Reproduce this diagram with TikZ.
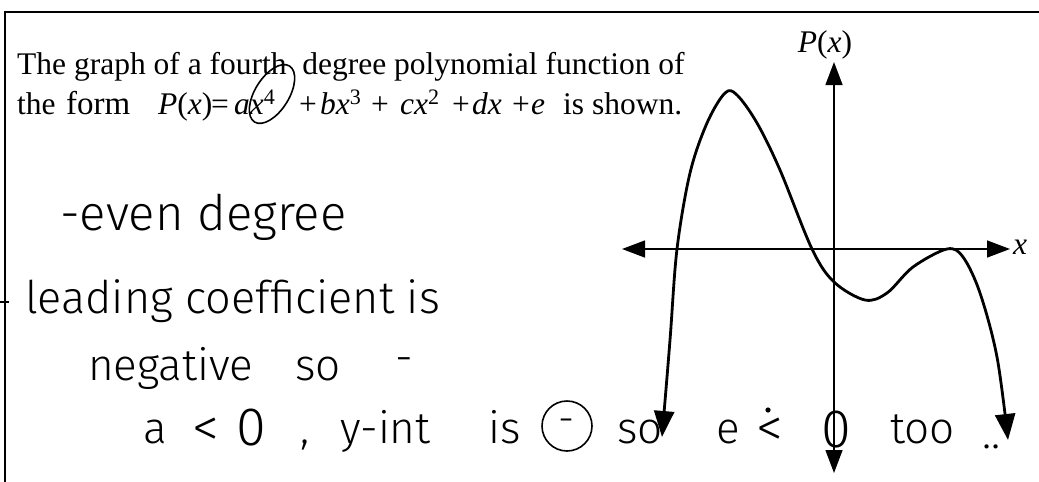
\documentclass[tikz,border=0pt]{standalone}
\usepackage{fontspec}
\setmainfont{Liberation Serif}
\newfontfamily\hand{Fira Sans Light}
\usetikzlibrary{arrows.meta}
\tikzset{
  frameline/.style={line width=1.3pt, black},
  axisline/.style={line width=1.4pt, black, {Triangle[length=23pt,width=17pt]}-{Triangle[length=23pt,width=17pt]}},
  curveline/.style={line width=2.8pt, black, line join=round, {Triangle[length=26pt,width=20pt]}-{Triangle[length=26pt,width=20pt]}},
  printed/.style={anchor=base west, inner sep=0pt, font=\fontsize{31.5}{34}\selectfont},
  hw/.style={anchor=base west, inner sep=0pt, font=\hand\fontsize{44}{50}\selectfont},
  hwbig/.style={anchor=base west, inner sep=0pt, font=\hand\fontsize{54}{60}\selectfont},
  hwB/.style={anchor=base west, inner sep=0pt, font=\hand\fontsize{45}{50}\selectfont},
  hwA/.style={anchor=base west, inner sep=0pt, font=\hand\fontsize{49}{54}\selectfont},
  penline/.style={line width=1.6pt, black},
}
\begin{document}
\begin{tikzpicture}[x=1pt,y=-1pt]
\useasboundingbox (0,0) rectangle (1039,482);
% frame
\coordinate (ftl) at (5,12);
\coordinate (ftr) at (1039,12);
\coordinate (fbl) at (5,482);
\coordinate (tk1) at (0,302);
\coordinate (tk2) at (9,302);
\draw[frameline] (ftr) -- (ftl) -- (fbl);
\draw[frameline] (tk1) -- (tk2);
% printed text
\node[printed] (l1) at (17,74) {The graph of a fourth\ \ degree polynomial function of};
\node[printed] (t0) at (17,114) {the};
\node[printed] (t1) at (66,114) {\fontsize{33}{36}\selectfont form};
\node[printed] (t2) at (158,114) {\textit{P}(\textit{x})};
\node[printed] (t3) at (211,114) {=};
\node[printed] (t4) at (234,114) {\textit{ax}\textsuperscript{4}};
\node[printed] (t5) at (299,114) {+};
\node[printed] (t6) at (320,114) {\textit{bx}\textsuperscript{3}};
\node[printed] (t7) at (371,114) {+};
\node[printed] (t8) at (400,114) {\textit{cx}\textsuperscript{2}};
\node[printed] (t9) at (452,114) {+};
\node[printed] (t10) at (472,114) {\textit{dx}};
\node[printed] (t11) at (512,114) {+};
\node[printed] (t12) at (531,114) {\textit{e}};
\node[printed] (t13) at (563,114) {is shown.};
\coordinate (ell) at (272,94);
\draw[penline, rotate around={58:(ell)}] (ell) ellipse[x radius=33pt, y radius=17pt];
% axes
\coordinate (xl) at (622,249);
\coordinate (xr) at (1010,249);
\coordinate (yt) at (834,62);
\coordinate (yb) at (834,473);
\draw[axisline] (xl) -- (xr);
\draw[axisline] (yb) -- (yt);
\node[font=\fontsize{31.5}{34}\selectfont, inner sep=0pt] (px) at (825,45) {\textit{P}(\textit{x})};
\node[font=\fontsize{31.5}{34}\selectfont\itshape, inner sep=0pt] (xlab) at (1020,247) {x};
% curve
\draw[curveline] plot[smooth, tension=0.55] coordinates {
 (662,437) (670,340) (677,249) (690,173) (707,123) (725,93) (737,95) (757,123)
 (780,170) (812,249) (834,282) (865,300) (887,293) (913,267) (947,249)
 (963,257) (980,293) (997,357) (1008,440)};
% handwriting
\node[hwA] (h1) at (60,230) {-even degree};
\node[hwB] (h2) at (25,313) {leading coefficient is};
\node[hw] (h3) at (88,380) {negative};
\node[hw] (h4) at (295,380) {so};
\node[hw] (h5) at (395,372) {-};
\node[hw] (w1) at (143,443) {a};
\node[hwbig] (w2) at (192,446) {<};
\node[hwbig] (w3) at (236,445) {0};
\node[hw] (w4) at (300,443) {,};
\node[hw] (w5) at (340,443) {y-int};
\node[hw] (w6) at (488,443) {is};
\node[circle, draw, line width=1.6pt, minimum size=50pt, inner sep=0pt, font=\hand\fontsize{40}{44}\selectfont] (w7) at (567,426) {-};
\node[hw] (w8) at (617,443) {so};
\node[hw] (w9) at (716,443) {e};
\node[hwbig] (w10) at (756,446) {<};
\fill (768,410) circle (2.6pt);
\node[hwbig] (w11) at (821,447) {0};
\node[hw] (w12) at (890,443) {too};
\node[hw] (w13) at (982,448) {..};
\end{tikzpicture}
\end{document}
